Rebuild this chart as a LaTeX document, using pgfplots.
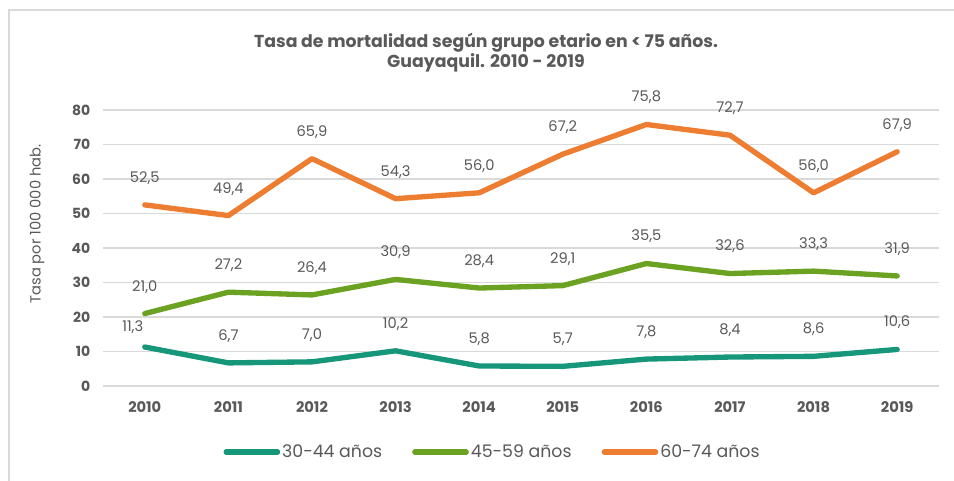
\documentclass[border=0pt]{standalone}
\usepackage{fontspec}
\setmainfont{Poppins}
\usepackage{pgfplots}
\pgfplotsset{compat=1.18}
\definecolor{txt}{HTML}{595959}
\definecolor{gridc}{HTML}{D9D9D9}
\definecolor{cteal}{HTML}{17977A}
\definecolor{cgreen}{HTML}{6BA222}
\definecolor{corange}{HTML}{ED7D31}
\begin{document}
\begin{tikzpicture}
\path[use as bounding box] (-77.25pt,-70.5pt) rectangle (638.25pt,289.5pt);
\draw[gridc, line width=1.2pt] (-70.5pt,-75pt) -- (-70.5pt,282pt) -- (645pt,282pt);
\begin{axis}[
    scale only axis,
    width=627pt, height=207pt,
    xmin=2009.5, xmax=2019.5,
    ymin=0, ymax=80,
    xtick={2010,...,2019},
    ytick={0,10,...,80},
    xticklabel style={/pgf/number format/1000 sep={}, font=\bfseries\fontsize{11}{13}\selectfont, text=txt, yshift=-8pt},
    yticklabel style={font=\bfseries\fontsize{10.5}{12}\selectfont, text=txt, xshift=-6pt},
    /pgf/number format/assume math mode=true,
    axis line style={draw=none},
    major tick style={draw=none},
    ymajorgrids,
    grid style={gridc, line width=1.2pt},
    clip=false,
    nodes near coords,
    every node near coord/.append style={font=\fontsize{11}{13}\selectfont, text=txt, anchor=south, yshift=10pt,
        /pgf/number format/.cd, fixed, fixed zerofill, precision=1, use comma, assume math mode=true},
    legend style={draw=none, at={(0.466,-0.239)}, anchor=center, legend columns=3,
        font=\fontsize{13}{15}\selectfont, text=txt, nodes={inner xsep=1.5pt},
        /tikz/every even column/.append style={column sep=21pt}},
    legend image code/.code={\draw[#1, line width=4pt, line cap=round] (0pt,0pt) -- (38.5pt,0pt);},
]
\addplot[cteal, line width=4pt, line cap=round, line join=round,
    coordinate style/.condition={x==2010}{xshift=-9pt, yshift=-5pt}] coordinates {
(2010,11.3) (2011,6.7) (2012,7.0) (2013,10.2) (2014,5.8) (2015,5.7) (2016,7.8) (2017,8.4) (2018,8.6) (2019,10.6)};
\addlegendentry{30-44 años}
\addplot[cgreen, line width=4pt, line cap=round, line join=round] coordinates {
(2010,21.0) (2011,27.2) (2012,26.4) (2013,30.9) (2014,28.4) (2015,29.1) (2016,35.5) (2017,32.6) (2018,33.3) (2019,31.9)};
\addlegendentry{45-59 años}
\addplot[corange, line width=4pt, line cap=round, line join=round] coordinates {
(2010,52.5) (2011,49.4) (2012,65.9) (2013,54.3) (2014,56.0) (2015,67.2) (2016,75.8) (2017,72.7) (2018,56.0) (2019,67.9)};
\addlegendentry{60-74 años}
\end{axis}
\node[align=center, font=\bfseries\fontsize{13}{15}\selectfont, text=txt] at (287.25pt,249.75pt)
  {Tasa de mortalidad según grupo etario en < 75 años.\\Guayaquil. 2010 - 2019};
\node[rotate=90, font=\fontsize{11}{13}\selectfont, text=txt] at (-49.5pt,121.5pt) {Tasa por 100 000 hab.};
\end{tikzpicture}
\end{document}
